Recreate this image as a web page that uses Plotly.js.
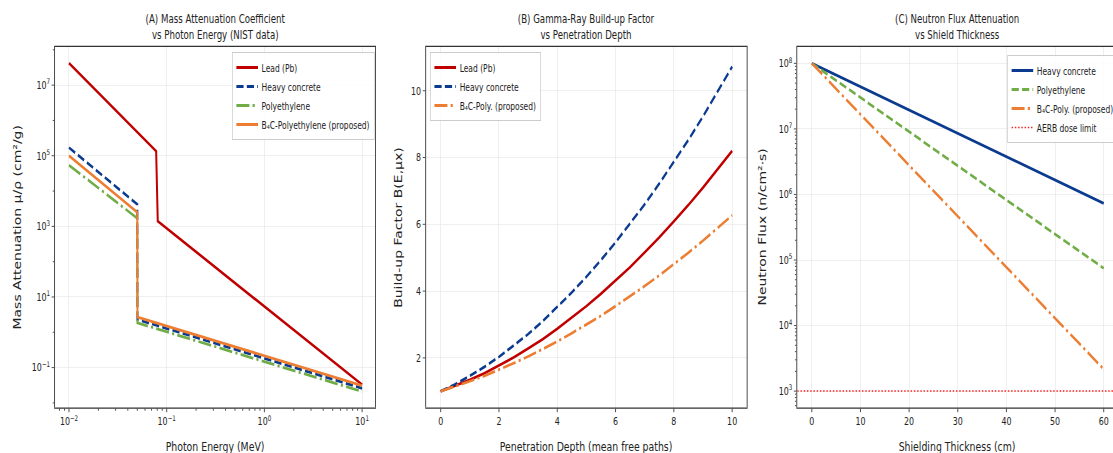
<!DOCTYPE html>
<html>
<head>
<meta charset="utf-8">
<script src="https://cdn.plot.ly/plotly-3.0.1.min.js"></script>
<style>
html,body{margin:0;padding:0;background:#fff;overflow:hidden;width:1113px;height:453px;}
#chart{height:453px;transform-origin:0 0;}
</style>
</head>
<body>
<div id="chart"></div>
<script>
// ---------- Panel A data: mass attenuation vs photon energy ----------
const energyPb   = [0.01, 0.078, 0.081, 10];
const muLead     = [4.2e7, 1.35e5, 1.4e3, 0.033];
const energyLow  = [0.01, 0.05, 0.0502, 10];
const muConcrete = [1.7e5, 4.2e3, 2.3, 0.026];
const muPoly     = [5.4e4, 1.7e3, 1.85, 0.021];
const muB4C      = [1.0e5, 2.5e3, 2.7, 0.031];

// ---------- Panel B data: build-up factor vs depth ----------
const depthMfp = [0,0.5,1,1.5,2,2.5,3,3.5,4,4.5,5,5.5,6,6.5,7,7.5,8,8.5,9,9.5,10];
const buLead     = [1.00,1.16,1.34,1.54,1.77,2.01,2.28,2.56,2.87,3.20,3.55,3.92,4.31,4.72,5.16,5.61,6.09,6.58,7.10,7.64,8.20];
const buConcrete = [1.00,1.21,1.46,1.73,2.03,2.36,2.71,3.10,3.52,3.96,4.43,4.93,5.46,6.02,6.60,7.22,7.86,8.53,9.23,9.96,10.72];
const buB4C      = [1.00,1.14,1.30,1.46,1.64,1.84,2.04,2.26,2.49,2.74,2.99,3.26,3.55,3.84,4.15,4.47,4.80,5.15,5.51,5.88,6.27];

// ---------- Panel C data: neutron flux vs thickness ----------
const thicknessCm  = [0,10,20,30,40,50,60];
const fluxConcrete = [1.0e8,4.41e7,1.94e7,8.55e6,3.77e6,1.66e6,7.31e5];
const fluxPoly     = [1.0e8,3.01e7,9.08e6,2.74e6,8.24e5,2.48e5,7.48e4];
const fluxB4C      = [1.0e8,1.67e7,2.79e6,4.65e5,7.75e4,1.29e4,2.16e3];
const aerbLimit    = 1e3;

// ---------- labels ----------
const labelsA = ['Lead (Pb)','Heavy concrete','Polyethylene','B\u2084C-Polyethylene (proposed)'];
const labelsB = ['Lead (Pb)','Heavy concrete','B\u2084C-Poly. (proposed)'];
const labelsC = ['Heavy concrete','Polyethylene','B\u2084C-Poly. (proposed)','AERB dose limit'];

// ---------- styling ----------
// The figure is drawn wide and squeezed horizontally, like the reference image.
const SQ = 0.72;              // horizontal squeeze factor
const SW = 1120;              // screen width covered (in screen px)
const H = 453;
const FW = Math.round(SW / SQ);
document.getElementById('chart').style.width = FW + 'px';
document.getElementById('chart').style.transform = 'scaleX(' + SQ + ')';

const FONT = "'DejaVu Sans', sans-serif";
const RED = '#C00000', BLUE = '#0B3B8F', GREEN = '#70AD47', ORANGE = '#ED7D31';
const LW = 2.8;
const DASH = '10px,4.5px';
const DASHDOT = '18px,4.5px,3px,4.5px';
const px = v => v / SW;       // screen x -> paper fraction
const py = v => 1 - v / H;    // screen y -> paper fraction

function minorLog(lo, hi){
  const out = [];
  for(let e = lo; e <= hi; e++){
    for(let m = 2; m <= 9; m++) out.push(m * Math.pow(10, e));
  }
  return out;
}
function sup(e){ return '10<sup>' + (e < 0 ? '\u2212' + (-e) : e) + '</sup>'; }

const baseAxis = {
  showline:true, mirror:true, linecolor:'#333', linewidth:1.2,
  ticks:'outside', ticklen:3.5, tickwidth:1, tickcolor:'#333',
  showgrid:true, gridcolor:'#e8e8e8', gridwidth:0.8, zeroline:false,
  tickfont:{family:FONT, size:11, color:'#222'}
};

const yDom = [py(407.5), py(47)];

const traces = [
  // Panel A
  {x:energyPb, y:muLead, name:labelsA[0], mode:'lines', line:{color:RED, width:LW}, xaxis:'x', yaxis:'y', legend:'legend'},
  {x:energyLow, y:muConcrete, name:labelsA[1], mode:'lines', line:{color:BLUE, width:LW, dash:DASH}, xaxis:'x', yaxis:'y', legend:'legend'},
  {x:energyLow, y:muPoly, name:labelsA[2], mode:'lines', line:{color:GREEN, width:LW, dash:DASHDOT}, xaxis:'x', yaxis:'y', legend:'legend'},
  {x:energyLow, y:muB4C, name:labelsA[3], mode:'lines', line:{color:ORANGE, width:LW}, xaxis:'x', yaxis:'y', legend:'legend'},
  // Panel B
  {x:depthMfp, y:buLead, name:labelsB[0], mode:'lines', line:{color:RED, width:LW}, xaxis:'x2', yaxis:'y2', legend:'legend2'},
  {x:depthMfp, y:buConcrete, name:labelsB[1], mode:'lines', line:{color:BLUE, width:LW, dash:DASH}, xaxis:'x2', yaxis:'y2', legend:'legend2'},
  {x:depthMfp, y:buB4C, name:labelsB[2], mode:'lines', line:{color:ORANGE, width:LW, dash:DASHDOT}, xaxis:'x2', yaxis:'y2', legend:'legend2'},
  // Panel C
  {x:thicknessCm, y:fluxConcrete, name:labelsC[0], mode:'lines', line:{color:BLUE, width:LW}, xaxis:'x3', yaxis:'y3', legend:'legend3'},
  {x:thicknessCm, y:fluxPoly, name:labelsC[1], mode:'lines', line:{color:GREEN, width:LW, dash:DASH}, xaxis:'x3', yaxis:'y3', legend:'legend3'},
  {x:thicknessCm, y:fluxB4C, name:labelsC[2], mode:'lines', line:{color:ORANGE, width:LW, dash:DASHDOT}, xaxis:'x3', yaxis:'y3', legend:'legend3'},
  {x:[-3, 63], y:[aerbLimit, aerbLimit], name:labelsC[3], mode:'lines', line:{color:'#FF2020', width:1.5, dash:'2px,2.5px'}, xaxis:'x3', yaxis:'y3', legend:'legend3'}
];

const legendBase = {
  bgcolor:'rgba(255,255,255,0.85)', bordercolor:'#cccccc', borderwidth:1,
  font:{family:FONT, size:10.5, color:'#222'}, itemwidth:30, tracegroupgap:0,
  xanchor:'left', yanchor:'top'
};

const titleFont = {family:FONT, size:12, color:'#222'};
const xTitleFont = {family:FONT, size:13, color:'#222'};
const yTitleFont = {family:FONT, size:14, color:'#222'};

const layout = {
  width:FW, height:H,
  margin:{l:0, r:0, t:0, b:0},
  paper_bgcolor:'#fff', plot_bgcolor:'#fff',
  showlegend:true,
  xaxis: Object.assign({}, baseAxis, {
    type:'log', domain:[px(55), px(375)], range:[-2.143, 1.133], anchor:'y',
    tickvals:[0.01,0.1,1,10], ticktext:[sup(-2),sup(-1),sup(0),sup(1)],
    minor:{ticks:'outside', ticklen:2, tickcolor:'#333', tickvals:minorLog(-3,1), showgrid:false}
  }),
  yaxis: Object.assign({}, baseAxis, {
    type:'log', domain:yDom, range:[-2.13, 8.08], anchor:'x',
    tickvals:[0.1,10,1e3,1e5,1e7], ticktext:[sup(-1),sup(1),sup(3),sup(5),sup(7)],
    minor:{ticks:'outside', ticklen:2, tickcolor:'#333', tickvals:[0.01,1,100,1e4,1e6,1e8], showgrid:false}
  }),
  xaxis2: Object.assign({}, baseAxis, {
    domain:[px(426), px(746.5)], range:[-0.5, 10.5], anchor:'y2', dtick:2, tick0:0
  }),
  yaxis2: Object.assign({}, baseAxis, {
    domain:yDom, range:[0.514, 11.31], anchor:'x2', dtick:2, tick0:0
  }),
  xaxis3: Object.assign({}, baseAxis, {
    domain:[px(797), px(1118)], range:[-3, 63], anchor:'y3', dtick:10, tick0:0
  }),
  yaxis3: Object.assign({}, baseAxis, {
    type:'log', domain:yDom, range:[2.75, 8.25], anchor:'x3',
    tickvals:[1e3,1e4,1e5,1e6,1e7,1e8], ticktext:[sup(3),sup(4),sup(5),sup(6),sup(7),sup(8)],
    minor:{ticks:'outside', ticklen:2, tickcolor:'#333', tickvals:minorLog(2,8), showgrid:false}
  }),
  legend: Object.assign({}, legendBase, {x:px(232), y:py(52)}),
  legend2: Object.assign({}, legendBase, {x:px(430), y:py(52)}),
  legend3: Object.assign({}, legendBase, {x:px(1007), y:py(55)}),
  annotations: [
    {text:'(A) Mass Attenuation Coefficient<br>vs Photon Energy (NIST data)', x:px(215), y:py(27), xref:'paper', yref:'paper', showarrow:false, font:titleFont, xanchor:'center', yanchor:'middle'},
    {text:'(B) Gamma-Ray Build-up Factor<br>vs Penetration Depth', x:px(586), y:py(27), xref:'paper', yref:'paper', showarrow:false, font:titleFont, xanchor:'center', yanchor:'middle'},
    {text:'(C) Neutron Flux Attenuation<br>vs Shield Thickness', x:px(957), y:py(27), xref:'paper', yref:'paper', showarrow:false, font:titleFont, xanchor:'center', yanchor:'middle'},
    {text:'Photon Energy (MeV)', x:px(215), y:py(446), xref:'paper', yref:'paper', showarrow:false, font:xTitleFont, xanchor:'center', yanchor:'middle'},
    {text:'Penetration Depth (mean free paths)', x:px(586), y:py(446), xref:'paper', yref:'paper', showarrow:false, font:xTitleFont, xanchor:'center', yanchor:'middle'},
    {text:'Shielding Thickness (cm)', x:px(957), y:py(446), xref:'paper', yref:'paper', showarrow:false, font:xTitleFont, xanchor:'center', yanchor:'middle'},
    {text:'Mass Attenuation \u03bc/\u03c1 (cm\u00b2/g)', x:px(17), y:py(227), xref:'paper', yref:'paper', showarrow:false, font:yTitleFont, textangle:-90, xanchor:'center', yanchor:'middle'},
    {text:'Build-up Factor B(E,\u03bcx)', x:px(398), y:py(227), xref:'paper', yref:'paper', showarrow:false, font:yTitleFont, textangle:-90, xanchor:'center', yanchor:'middle'},
    {text:'Neutron Flux (n/cm\u00b2\u00b7s)', x:px(762), y:py(227), xref:'paper', yref:'paper', showarrow:false, font:yTitleFont, textangle:-90, xanchor:'center', yanchor:'middle'}
  ]
};

Plotly.newPlot('chart', traces, layout, {displayModeBar:false, staticPlot:true});
</script>
</body>
</html>
